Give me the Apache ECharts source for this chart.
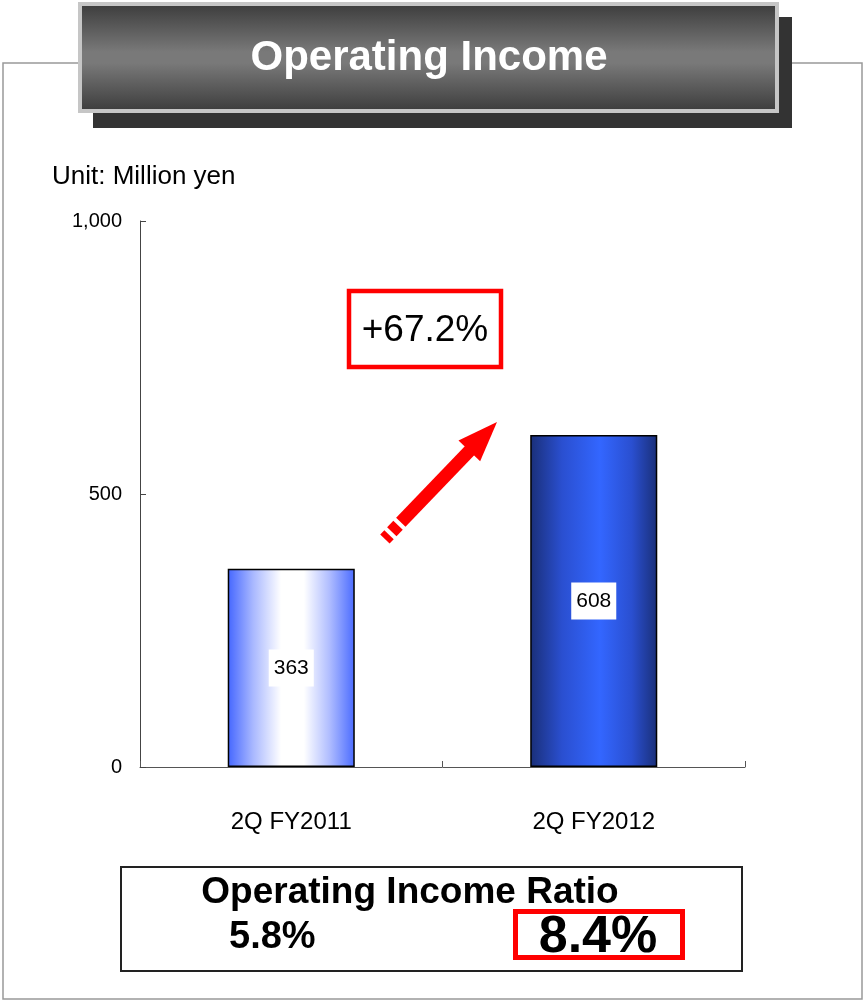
<!DOCTYPE html>
<html>
<head>
<meta charset="utf-8">
<script src="https://cdn.jsdelivr.net/npm/echarts@6/dist/echarts.min.js"></script>
<style>
html,body{margin:0;padding:0;background:#fff;}
#c{width:865px;height:1002px;}
</style>
</head>
<body>
<div id="c"></div>
<script>
// ---- data ----
var categories = ['2Q FY2011', '2Q FY2012'];
var values = [363, 608];
var ratios = [5.8, 8.4];
var growthPct = 67.2;
var yTicks = [0, 500, 1000];
var titleText = 'Operating Income';
var unitText = 'Unit: Million yen';
var ratioTitle = 'Operating Income Ratio';

var FONT = '"Liberation Sans", Arial, sans-serif';

var barStyles = [
  { type: 'linear', x: 0, y: 0, x2: 1, y2: 0, colorStops: [
    { offset: 0, color: '#4466ff' }, { offset: 0.2, color: '#a9b8ff' },
    { offset: 0.42, color: '#ffffff' }, { offset: 0.6, color: '#ffffff' },
    { offset: 0.8, color: '#b0bdff' }, { offset: 1, color: '#4a6bff' } ] },
  { type: 'linear', x: 0, y: 0, x2: 1, y2: 0, colorStops: [
    { offset: 0, color: '#1a2f78' }, { offset: 0.25, color: '#2a4fd0' },
    { offset: 0.55, color: '#3366ff' }, { offset: 0.8, color: '#2a4fd0' },
    { offset: 1, color: '#1a2f78' } ] }
];

// ---- arrow geometry (decoration) ----
var T = [497, 422];
var u = [0.692, -0.722], nrm = [0.722, 0.692];
function P(s, w) { return [T[0] - s * u[0] + w * nrm[0], T[1] - s * u[1] + w * nrm[1]]; }
function seg(s0, s1, hw) { return [P(s0, -hw), P(s0, hw), P(s1, hw), P(s1, -hw)]; }
var headLen = 40, headHalf = 15, shaftHalf = 6.5;
var arrowHead = [P(0, 0), P(headLen, headHalf), P(headLen, -headHalf)];
var arrowShaft = seg(headLen - 1, 139, shaftHalf);
var dash1 = seg(143, 152, shaftHalf);
var dash2 = seg(156, 162, shaftHalf);

var chart = echarts.init(document.getElementById('c'));
chart.setOption({
  backgroundColor: '#ffffff',
  animation: false,
  grid: { left: 140, right: 120, top: 221, bottom: 235, containLabel: false },
  xAxis: {
    type: 'category',
    data: categories,
    boundaryGap: true,
    axisLine: { show: true, lineStyle: { color: '#555', width: 1 } },
    axisTick: { show: true, inside: true, length: 6, lineStyle: { color: '#555' } },
    axisLabel: { margin: 43, fontSize: 24, color: '#000', fontFamily: FONT }
  },
  yAxis: {
    type: 'value',
    min: 0, max: 1000, interval: 500,
    axisLine: { show: true, lineStyle: { color: '#444', width: 1 } },
    axisTick: { show: true, inside: true, length: 6, lineStyle: { color: '#444' } },
    splitLine: { show: false },
    axisLabel: {
      margin: 18, fontSize: 20, color: '#000', fontFamily: FONT,
      formatter: function (v) { return yTicks.indexOf(v) >= 0 ? v.toLocaleString('en-US') : ''; }
    }
  },
  series: [{
    type: 'bar',
    barWidth: '42%',
    data: values.map(function (v, i) {
      return { value: v, itemStyle: { color: barStyles[i], borderColor: '#000', borderWidth: 1.5 } };
    }),
    label: {
      show: true, position: 'inside', color: '#000', fontSize: 21, fontFamily: FONT,
      backgroundColor: '#ffffff', padding: [8, 5, 8, 5]
    }
  }],
  graphic: [
    { type: 'polyline', z: 1, shape: { points: [[80, 63], [3, 63], [3, 999], [862, 999], [862, 63], [778, 63]] },
      style: { stroke: '#999', lineWidth: 1.5, fill: null } },
    { type: 'rect', z: 2, shape: { x: 93, y: 17, width: 699, height: 111 }, style: { fill: '#333' } },
    { type: 'rect', z: 3, shape: { x: 80, y: 4, width: 697, height: 107 },
      style: { fill: { type: 'linear', x: 0, y: 0, x2: 0, y2: 1, colorStops: [
        { offset: 0, color: '#3a3a3a' }, { offset: 0.45, color: '#797979' }, { offset: 0.55, color: '#797979' }, { offset: 1, color: '#3a3a3a' } ] },
        stroke: '#c6c6c6', lineWidth: 4 } },
    { type: 'text', z: 4, x: 429, y: 58, style: { text: titleText, fill: '#fff', font: 'bold 42px ' + FONT, textAlign: 'center', textVerticalAlign: 'middle' } },
    { type: 'text', z: 4, x: 52, y: 177, style: { text: unitText, fill: '#000', font: '26px ' + FONT, textAlign: 'left', textVerticalAlign: 'middle' } },
    { type: 'rect', z: 4, shape: { x: 349, y: 291, width: 152, height: 76 }, style: { fill: '#fff', stroke: '#ff0000', lineWidth: 4.5 } },
    { type: 'text', z: 5, x: 425, y: 331, style: { text: '+' + growthPct.toFixed(1) + '%', fill: '#000', font: '37px ' + FONT, textAlign: 'center', textVerticalAlign: 'middle' } },
    { type: 'polygon', z: 4, shape: { points: arrowHead }, style: { fill: '#ff0000' } },
    { type: 'polygon', z: 4, shape: { points: arrowShaft }, style: { fill: '#ff0000' } },
    { type: 'polygon', z: 4, shape: { points: dash1 }, style: { fill: '#ff0000' } },
    { type: 'polygon', z: 4, shape: { points: dash2 }, style: { fill: '#ff0000' } },
    { type: 'rect', z: 4, shape: { x: 121, y: 867, width: 621, height: 104 }, style: { fill: null, stroke: '#222', lineWidth: 2 } },
    { type: 'text', z: 5, x: 410, y: 893, style: { text: ratioTitle, fill: '#000', font: 'bold 37px ' + FONT, textAlign: 'center', textVerticalAlign: 'middle' } },
    { type: 'text', z: 5, x: 229, y: 938, style: { text: ratios[0].toFixed(1) + '%', fill: '#000', font: 'bold 38px ' + FONT, textAlign: 'left', textVerticalAlign: 'middle' } },
    { type: 'rect', z: 4, shape: { x: 515.5, y: 911.5, width: 167, height: 46 }, style: { fill: null, stroke: '#ff0000', lineWidth: 5 } },
    { type: 'text', z: 5, x: 598, y: 938, style: { text: ratios[1].toFixed(1) + '%', fill: '#000', font: 'bold 52px ' + FONT, textAlign: 'center', textVerticalAlign: 'middle' } }
  ]
});
</script>
</body>
</html>
